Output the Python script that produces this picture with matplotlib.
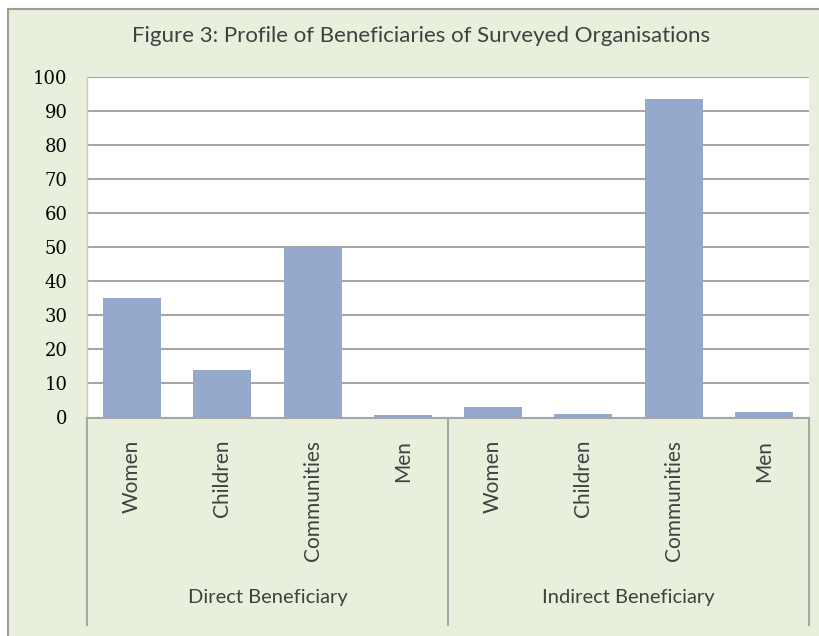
import matplotlib
matplotlib.use("Agg")
import matplotlib.pyplot as plt
from matplotlib.patches import Rectangle
from matplotlib.transforms import blended_transform_factory

# data
groups = ["Direct Beneficiary", "Indirect Beneficiary"]
categories = ["Women", "Children", "Communities", "Men"]
direct_values = [35, 14, 50, 0.6]
indirect_values = [3.2, 1.1, 93.7, 1.7]
y_ticks = list(range(0, 101, 10))

bar_color = "#95A9CD"
green_bg = "#E8F0DD"
grid_color = "#A6A6A6"
text_color = "#404040"

W, H = 820, 636
fig = plt.figure(figsize=(W / 100, H / 100), dpi=100)
fig.patch.set_facecolor("white")

# green chart-area frame (runs off the right and bottom edges)
frame = Rectangle((8 / W, -0.1), 1.2, 1.1 - 9 / H, transform=fig.transFigure,
                  facecolor=green_bg, edgecolor="#9C9C9C", linewidth=1.5, zorder=-10)
fig.add_artist(frame)

left, right, top, bottom = 87, 809, 77.3, 417.5
ax = fig.add_axes([left / W, 1 - bottom / H, (right - left) / W, (bottom - top) / H])
ax.set_zorder(5)
ax.set_facecolor("white")

values = direct_values + indirect_values
labels = categories + categories
x = list(range(len(values)))
ax.bar(x, values, width=0.64, color=bar_color, zorder=3)

ax.set_xlim(-0.5, len(values) - 0.5)
ax.set_ylim(0, 100)
ax.set_yticks(y_ticks)
ax.set_yticklabels([str(v) for v in y_ticks], family="DejaVu Serif", fontsize=13, color="black")
ax.tick_params(axis="y", length=0, pad=14)
ax.grid(axis="y", color=grid_color, linewidth=1.5, zorder=1)

ax.set_xticks(x)
ax.set_xticklabels(labels, rotation=90, family="Lato", fontsize=15, color=text_color, va="top")
ax.tick_params(axis="x", length=0, pad=16)

for side in ["top", "right"]:
    ax.spines[side].set_visible(False)
ax.spines["left"].set_color("#C8C8C8")
ax.spines["left"].set_linewidth(1.0)
ax.spines["bottom"].set_color(grid_color)
ax.spines["bottom"].set_linewidth(1.5)

# group separators and group labels below the axis
trans = blended_transform_factory(ax.transData, ax.transAxes)
sep_depth = -(625 - bottom) / (bottom - top)
for xs in [-0.5, 3.5, 7.5]:
    ax.plot([xs, xs], [0, sep_depth], transform=trans, color=grid_color,
            linewidth=1.5, clip_on=False)
label_y = -(598 - bottom) / (bottom - top)
for i, g in enumerate(groups):
    ax.text(i * 4 + 1.5, label_y, g, transform=trans, ha="center", va="center",
            family="Lato", fontsize=14.5, color=text_color)

fig.text(421 / W, 1 - 36 / H, "Figure 3: Profile of Beneficiaries of Surveyed Organisations",
         ha="center", va="center", family="Lato", fontsize=16, color=text_color)

fig.savefig("out.png", dpi=100, facecolor=fig.get_facecolor())
